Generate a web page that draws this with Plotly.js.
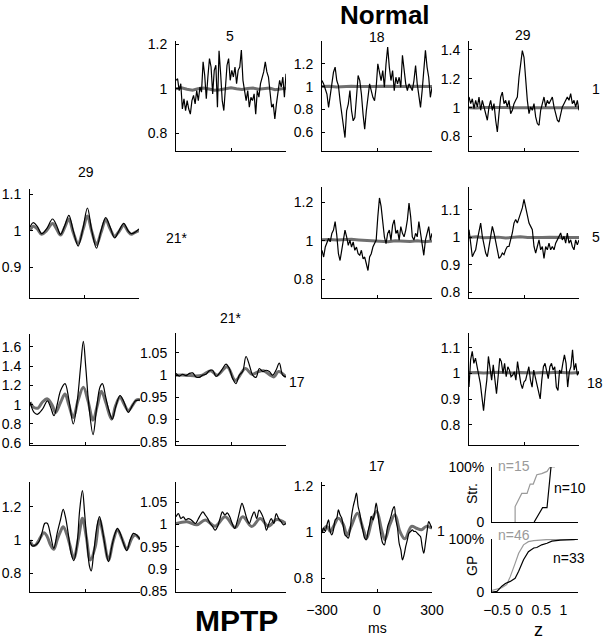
<!DOCTYPE html>
<html><head><meta charset="utf-8">
<script src="https://cdn.plot.ly/plotly-3.0.1.min.js"></script>
<style>html,body{margin:0;padding:0;background:#fff}#chart{width:604px;height:639px}</style>
</head><body><div id="chart"></div>
<script>
// ---------- DATA ----------
// Normal row 0 (reference 1): pairs 5-1, 18-1, 29-1 (evenly spaced lags -300..300 ms)
const normA_black = [1.038,1.045,0.992,1.023,0.909,0.955,0.902,0.947,0.909,0.886,0.947,0.970,0.932,0.992,0.947,1.008,0.985,1.121,1.061,0.955,1.053,1.136,1.098,0.977,1.083,1.106,0.917,1.171,1.068,0.947,0.902,1.023,1.106,1.136,1.038,1.083,1.053,1.098,1.023,1.083,1.098,1.174,1.038,0.992,0.947,0.992,0.917,0.962,0.947,0.977,0.886,0.992,0.962,1.023,1.053,1.076,1.121,1.076,1.053,0.977,0.917,0.932,0.864,0.932,0.977,1.038,1.008,1.053,0.962,1.068];
const normA_gray = [1.0,1.004,0.998,0.994,1.0,1.003,0.999,0.993,0.996,1.0,1.004,1.0,0.997,1.001,1.003,0.998,1.0,1.003,0.996,1.0,1.002];
const normB_black = [1.053,1.024,0.979,0.935,0.818,0.906,1.024,1.126,1.171,1.053,1.009,0.876,0.759,0.641,0.553,0.788,0.847,0.965,0.788,0.700,0.729,0.906,1.097,1.053,0.935,0.759,0.626,0.788,0.906,1.024,0.965,0.906,0.876,0.994,1.200,1.112,1.053,1.141,0.994,1.200,1.347,1.171,1.053,1.141,0.965,1.082,1.024,1.082,0.994,1.274,1.112,1.024,0.965,1.024,0.994,0.965,1.053,1.185,1.024,0.906,0.818,0.965,1.112,1.318,1.171,1.082,0.906,0.994];
const normB_gray = [1.0,1.002,0.996,1.0,1.004,1.0,0.998,1.001,1.003,1.0,0.997,1.0,1.002,1.0,0.999,1.0];
const normC_black = [1.074,1.028,1.062,0.993,1.051,1.005,1.074,0.982,1.051,1.005,0.959,0.913,1.005,1.051,0.982,1.028,0.913,0.832,0.959,1.074,1.108,1.028,1.051,1.005,1.051,0.959,0.982,1.028,1.051,1.074,1.211,1.292,1.395,1.349,1.189,1.051,0.959,1.005,0.982,1.028,0.936,0.890,0.878,0.982,1.028,1.074,1.005,1.051,1.028,1.051,1.074,1.005,0.959,0.913,0.901,0.959,1.005,1.028,1.051,1.074,1.051,1.097,1.028,1.051,1.005,1.051,0.982];
const normC_gray = [1.0,0.998,1.002,1.0,0.999,1.001,1.0,1.0,0.998,1.0,1.002,1.0,0.999,1.0,1.0,1.0];

// Row 1 (reference 5): MPTP 29-21*, Normal 18-5, 29-5
const mptpD_lag   = [-300,-282,-260,-236,-209,-176,-154,-132,-108,-86,-62,-35,-7,16,40,66,91,117,141,166,190,216,240,258,276,300];
const mptpD_black = [1.01,1.022,1.012,0.992,1.005,1.032,1.015,0.99,1.015,1.042,1.0,0.958,1.01,1.062,1.0,0.952,1.0,1.036,1.01,0.98,1.0,1.02,1.0,0.992,0.995,1.005];
const mptpD_gray  = [1.0,1.012,1.005,0.99,1.0,1.02,1.005,0.988,1.01,1.032,0.995,0.965,1.005,1.04,0.998,0.962,0.995,1.03,1.005,0.985,0.998,1.015,0.998,0.99,0.995,1.0];
const normE_black = [0.951,0.916,0.968,0.986,1.012,0.995,1.039,1.056,1.100,1.030,0.933,0.898,0.951,1.004,1.056,1.021,0.977,1.004,0.968,0.995,0.951,0.968,0.933,0.925,0.951,0.907,0.916,0.881,0.846,0.916,0.933,0.968,0.986,1.004,1.126,1.223,1.179,1.091,1.021,0.986,1.039,1.056,1.004,1.082,1.109,1.039,1.056,1.004,1.074,1.039,1.021,1.056,1.109,1.196,1.126,1.021,1.004,1.039,1.021,1.100,1.039,0.968,0.925,1.004,1.039,1.074,1.004,1.039];
const normE_gray = [1.006,1.007,1.004,1.006,1.008,1.005,1.003,1.0,0.997,0.995,1.0,0.998,0.997,1.0,0.996,0.999];
const normF_black = [1.028,0.967,0.930,0.943,0.955,0.991,1.016,1.052,1.004,0.967,0.943,0.930,0.967,1.016,1.040,1.016,0.991,0.955,0.924,0.930,0.943,0.937,0.955,0.967,0.967,0.991,1.016,1.052,1.065,1.052,1.071,1.089,1.107,1.138,1.107,1.089,1.052,1.040,1.028,0.967,0.943,0.967,0.991,0.955,0.967,0.924,0.967,0.955,0.979,0.955,0.967,0.955,0.979,0.991,1.004,1.016,0.991,1.004,0.979,1.016,0.979,0.991,0.967,0.955,0.991,0.973,0.991];
const normF_gray = [1.0,1.002,0.999,1.0,1.001,0.998,1.0,1.002,1.0,0.999,1.0,1.001,1.0,0.999,1.0,1.0];

// Row 2 (reference 17 / 18): MPTP 29-17, 21*-17, Normal 29-18
const mptpG_blackLag = [-300,-278,-260,-233,-205,-187,-169,-151,-133,-109,-87,-64,-42,-24,-9,4,22,44,64,82,95,113,131,149,167,191,213,236,258,276,300];
const mptpG_black = [1.025,0.92,0.90,0.95,1.04,0.97,0.885,1.007,1.147,1.218,1.042,0.80,1.042,1.393,1.656,1.393,0.975,0.69,0.975,1.183,1.218,1.077,0.937,0.85,0.975,1.095,1.025,0.92,0.99,1.04,1.046];
const mptpG_grayLag = [-300,-278,-256,-233,-205,-178,-160,-133,-109,-87,-64,-38,-9,16,44,67,89,113,145,167,191,213,236,264,282,300];
const mptpG_gray = [1.025,0.97,0.965,1.025,1.06,0.99,0.92,1.025,1.11,0.99,0.867,1.042,1.18,1.042,0.84,0.99,1.14,1.025,0.85,0.99,1.08,1.007,0.94,1.007,1.05,1.05];
const mptpH_black = [1.004,0.998,1.002,0.999,1.004,1.005,0.996,0.995,1.0,1.002,1.01,1.011,0.997,1.004,1.015,1.025,1.015,0.992,0.981,1.0,1.008,1.042,1.023,1.0,0.995,1.015,1.008,1.011,1.008,1.0,1.011,1.027,1.0,0.996];
const mptpH_grayLag = [-300,-246,-192,-156,-111,-75,-21,24,78,114,150,178,214,235,259,300];
const mptpH_gray = [1.0,1.0,0.998,1.0,1.01,1.0,1.019,0.988,1.015,1.002,1.008,1.01,1.0,0.996,1.008,0.996];
const normI_black = [0.947,1.053,1.086,1.039,1.059,1.026,1.007,0.961,0.908,0.855,0.921,0.974,1.066,1.007,0.974,1.033,0.974,0.921,0.987,1.059,1.046,1.0,1.039,0.987,1.026,1.013,0.987,0.993,1.007,0.974,1.046,1.0,0.961,0.941,0.967,0.974,1.0,1.026,0.974,0.947,1.013,0.987,0.961,0.934,0.901,0.974,1.026,1.039,1.007,0.980,1.026,1.039,1.013,1.026,0.947,0.934,1.013,1.0,1.039,1.072,1.039,0.947,1.007,1.026,1.092,1.013,1.039,0.993,1.007];
const normI_gray = [1.003,1.004,1.002,1.003,1.005,1.003,1.002,1.004,1.003,1.002,1.004,1.003,1.005,1.003,1.002,1.004];

// Row 3 (reference 1): MPTP 29-1, 21*-1, 17-1
const mptpJ_blackLag = [-300,-287,-269,-251,-233,-219,-206,-188,-170,-152,-134,-119,-107,-89,-76,-61,-43,-29,-14,-2,11,25,34,47,65,79,92,110,128,146,164,177,192,210,228,246,264,282,300];
const mptpJ_black = [0.99,0.964,0.97,0.99,1.05,1.10,1.10,1.03,0.95,1.04,1.12,1.184,1.14,1.02,0.92,0.876,0.98,1.18,1.296,1.16,0.98,0.84,0.814,0.92,1.08,1.14,1.08,0.96,0.87,0.96,1.04,1.07,1.04,0.98,0.936,1.0,1.04,1.03,1.004];
const mptpJ_grayLag = [-300,-287,-269,-251,-224,-206,-188,-170,-152,-134,-119,-98,-80,-61,-34,-14,7,29,56,79,101,128,155,177,201,228,255,273,300];
const mptpJ_gray = [1.0,0.97,0.97,1.0,1.044,1.02,0.97,0.944,1.0,1.05,1.08,1.03,0.96,0.89,1.02,1.13,1.02,0.88,0.96,1.12,1.02,0.88,1.0,1.06,1.01,0.944,1.01,1.03,1.004];
const mptpK_black = [1.017,1.024,1.013,1.017,1.010,1.013,1.011,1.006,1.002,1.011,1.021,1.028,1.021,1.013,1.002,0.995,0.987,0.995,1.013,1.028,1.021,1.026,1.017,1.002,0.991,1.006,1.028,1.047,1.032,1.013,1.002,1.017,1.028,1.013,1.032,1.024,1.010,0.987,1.002,1.013,1.002,1.024,1.013,1.006,0.999,1.002];
const mptpK_grayLag = [-300,-240,-186,-140,-86,-32,23,64,113,159,204,249,300];
const mptpK_gray = [1.002,1.006,0.999,1.01,0.996,1.017,0.993,1.017,0.995,1.013,0.996,1.011,1.002];
const mptpL_black = [0.996,1.017,1.003,1.032,1.053,1.003,0.988,1.010,1.053,1.061,1.097,1.075,1.061,1.024,0.988,0.981,0.974,1.003,1.068,1.111,1.140,1.169,1.111,1.082,1.039,1.003,0.974,0.967,1.003,1.032,1.068,1.053,1.082,1.126,1.082,1.025,0.981,0.952,0.945,0.981,1.025,1.046,1.068,1.097,1.111,1.053,1.017,0.952,0.924,0.880,0.902,0.938,0.967,0.996,1.003,1.010,1.003,1.003,0.996,0.988,0.981,0.938,0.909,0.952,1.003,1.046,1.032,1.017];
const mptpL_grayLag = [-300,-273,-255,-237,-210,-183,-164,-137,-107,-74,-56,-29,-2,25,43,70,98,125,152,188,215,242,269,300];
const mptpL_gray = [1.003,1.025,1.003,1.025,1.06,1.032,0.988,1.032,1.082,1.01,0.974,1.046,1.09,1.01,0.967,1.032,1.075,1.003,0.971,1.025,1.017,1.01,1.025,1.017];

// Cumulative distributions of z
const strNormal_z = [-0.09,-0.09,0.06,0.18,0.25,0.32,0.40,0.51,0.63,0.70,0.81];
const strNormal_p = [0,0.28,0.52,0.52,0.69,0.69,0.86,0.88,0.92,1.0,1.0];
const strMptp_z = [0.34,0.53,0.63,0.72];
const strMptp_p = [0,0.26,0.26,1.0];
const gpNormal_z = [-0.61,-0.5,-0.39,-0.28,-0.2,-0.09,-0.01,0.1,0.21,0.33,0.48,0.63,0.85,1.34];
const gpNormal_p = [0.03,0.06,0.08,0.14,0.29,0.54,0.73,0.89,0.95,0.97,0.98,0.99,0.99,1.0];
const gpMptp_z = [-0.61,-0.5,-0.39,-0.31,-0.2,-0.09,-0.01,0.1,0.21,0.33,0.4,0.51,0.63,0.74,0.93,1.08,1.23,1.34];
const gpMptp_p = [0,0.01,0.11,0.16,0.2,0.26,0.39,0.61,0.76,0.83,0.84,0.89,0.92,0.96,0.98,0.98,0.99,1.0];

const lagTicks = [-300,0,300];
const lagTickText = ['\u2212300','0','300'];
const zTicks = [-0.5,0,0.5,1];
const zTickText = ['\u22120.5','0','0.5','1'];

// ---------- BUILD ----------
const W = 604, H = 639;
const FONT = 'Liberation Sans, Arial, Helvetica, sans-serif';
const BLACK = '#000000', GRAY = '#6f6f6f';
const evenLags = n => Array.from({length:n}, (_, i) => -300 + 600 * i / (n - 1));

// panel layout: pixel boxes [x0,x1,y0,y1], y range, y ticks
const panels = [
  {box:[176,286,41,151],  yr:[0.72,1.215],  yt:[0.8,1,1.2]},
  {box:[322,432,41,151],  yr:[0.435,1.40],  yt:[0.6,0.8,1,1.2]},
  {box:[469,579,41,151],  yr:[0.70,1.462],  yt:[0.8,1,1.2,1.4]},
  {box:[30,139,189,298],  yr:[0.816,1.114], yt:[0.9,1,1.1]},
  {box:[322,432,187,298], yr:[0.703,1.28],  yt:[0.8,1,1.2]},
  {box:[469,579,187,298], yr:[0.78,1.183],  yt:[0.8,0.9,1,1.1]},
  {box:[30,140,334,445],  yr:[0.582,1.732], yt:[0.6,0.8,1,1.2,1.4,1.6]},
  {box:[176,286,333,445], yr:[0.8425,1.095],yt:[0.85,0.9,0.95,1,1.05]},
  {box:[469,579,333,445], yr:[0.722,1.157], yt:[0.8,0.9,1,1.1]},
  {box:[30,140,482,592],  yr:[0.688,1.348], yt:[0.8,1,1.2]},
  {box:[176,286,482,592], yr:[0.8485,1.095],yt:[0.85,0.9,0.95,1,1.05]},
  {box:[322,432,482,592], yr:[0.741,1.217], yt:[0.8,1,1.2], xlabels:true},
];

const series = [
  [evenLags(normA_black.length), normA_black, evenLags(normA_gray.length), normA_gray],
  [evenLags(normB_black.length), normB_black, evenLags(normB_gray.length), normB_gray],
  [evenLags(normC_black.length), normC_black, evenLags(normC_gray.length), normC_gray],
  [mptpD_lag, mptpD_black, mptpD_lag, mptpD_gray, true],
  [evenLags(normE_black.length), normE_black, evenLags(normE_gray.length), normE_gray],
  [evenLags(normF_black.length), normF_black, evenLags(normF_gray.length), normF_gray],
  [mptpG_blackLag, mptpG_black, mptpG_grayLag, mptpG_gray, true],
  [evenLags(mptpH_black.length), mptpH_black, mptpH_grayLag, mptpH_gray, true],
  [evenLags(normI_black.length), normI_black, evenLags(normI_gray.length), normI_gray],
  [mptpJ_blackLag, mptpJ_black, mptpJ_grayLag, mptpJ_gray, true],
  [evenLags(mptpK_black.length), mptpK_black, mptpK_grayLag, mptpK_gray, true],
  [evenLags(mptpL_black.length), mptpL_black, mptpL_grayLag, mptpL_gray, true],
];

const data = [];
const layout = {
  width: W, height: H, margin: {l:0, r:0, t:0, b:0},
  paper_bgcolor: '#fff', plot_bgcolor: '#fff', showlegend: false,
  font: {family: FONT, size: 14, color: '#000'},
  annotations: []
};

function axBase(extra) {
  return Object.assign({
    showgrid:false, zeroline:false, showline:true, linecolor:'#000', linewidth:1,
    ticks:'inside', ticklen:3, tickcolor:'#000', tickwidth:1, mirror:false,
    tickfont:{family:FONT, size:14, color:'#000'}, fixedrange:true
  }, extra);
}

panels.forEach((p, i) => {
  const n = i + 1, xs = n === 1 ? '' : String(n);
  const [bx, by, gx, gy, smooth] = series[i];
  const shape = smooth ? 'spline' : 'linear';
  data.push({x: gx, y: gy, xaxis:'x'+xs, yaxis:'y'+xs, type:'scatter', mode:'lines',
    line:{color:GRAY, width:3, shape:shape}, hoverinfo:'skip'});
  data.push({x: bx, y: by, xaxis:'x'+xs, yaxis:'y'+xs, type:'scatter', mode:'lines',
    line:{color:BLACK, width:1.2, shape:shape}, hoverinfo:'skip'});
  const [x0,x1,y0,y1] = p.box;
  layout['xaxis'+xs] = axBase({domain:[x0/W, x1/W], range:[-300,300], anchor:'y'+xs,
    tickvals: lagTicks, ticktext: lagTickText, showticklabels: !!p.xlabels, ticklabelstandoff: 5});
  layout['yaxis'+xs] = axBase({domain:[1-y1/H, 1-y0/H], range:p.yr, anchor:'x'+xs,
    tickvals: p.yt, ticklabelstandoff: 5});
});

// CDF panels
const cdf = [
  {n:13, box:[492,578,467,522], tri:[[strNormal_z,strNormal_p,'#9a9a9a'],[strMptp_z,strMptp_p,'#000']], xl:false},
  {n:14, box:[492,578,539,592], tri:[[gpNormal_z,gpNormal_p,'#9a9a9a'],[gpMptp_z,gpMptp_p,'#000']], xl:true},
];
cdf.forEach(c => {
  const xs = String(c.n);
  c.tri.forEach(t => data.push({x:t[0], y:t[1], xaxis:'x'+xs, yaxis:'y'+xs, type:'scatter', mode:'lines',
    line:{color:t[2], width:1.2}, hoverinfo:'skip'}));
  const [x0,x1,y0,y1] = c.box;
  layout['xaxis'+xs] = axBase({domain:[x0/W, x1/W], range:[-0.612,1.33], anchor:'y'+xs,
    tickvals: zTicks, ticktext: zTickText, showticklabels: c.xl, ticks:'', ticklabelstandoff: 5});
  layout['yaxis'+xs] = axBase({domain:[1-y1/H, 1-y0/H], range:[0,1], anchor:'x'+xs,
    tickvals:[0,1], ticktext:['0','100%'], ticks:'', ticklabelstandoff: 4});
});

function label(text, px, py, opts) {
  layout.annotations.push(Object.assign({text:text, x:px/W, y:1-py/H, xref:'paper', yref:'paper',
    showarrow:false, xanchor:'center', yanchor:'middle', font:{family:FONT, size:14, color:'#000'}}, opts||{}));
}
label('<b>Normal</b>', 385, 15, {font:{family:FONT, size:26, color:'#000'}});
label('<b>MPTP</b>', 236, 620, {font:{family:FONT, size:30, color:'#000'}});
label('5', 230, 36); label('18', 377, 37); label('29', 523, 35); label('1', 596, 89);
label('29', 86, 172); label('21*', 177, 238); label('5', 596, 237);
label('21*', 231, 318); label('17', 297, 382); label('18', 595, 383);
label('17', 377, 466); label('1', 441, 531);
label('ms', 377, 628);
label('Str.', 472, 494, {textangle:-90});
label('GP', 472, 566, {textangle:-90});
label('n=15', 514, 466, {font:{family:FONT, size:14, color:'#9a9a9a'}});
label('n=10', 570, 488);
label('n=46', 514, 535, {font:{family:FONT, size:14, color:'#9a9a9a'}});
label('n=33', 569, 558);
label('z', 538, 630, {font:{family:FONT, size:18, color:'#000'}});

Plotly.newPlot('chart', data, layout, {staticPlot:true, displayModeBar:false});
</script>
</body></html>
